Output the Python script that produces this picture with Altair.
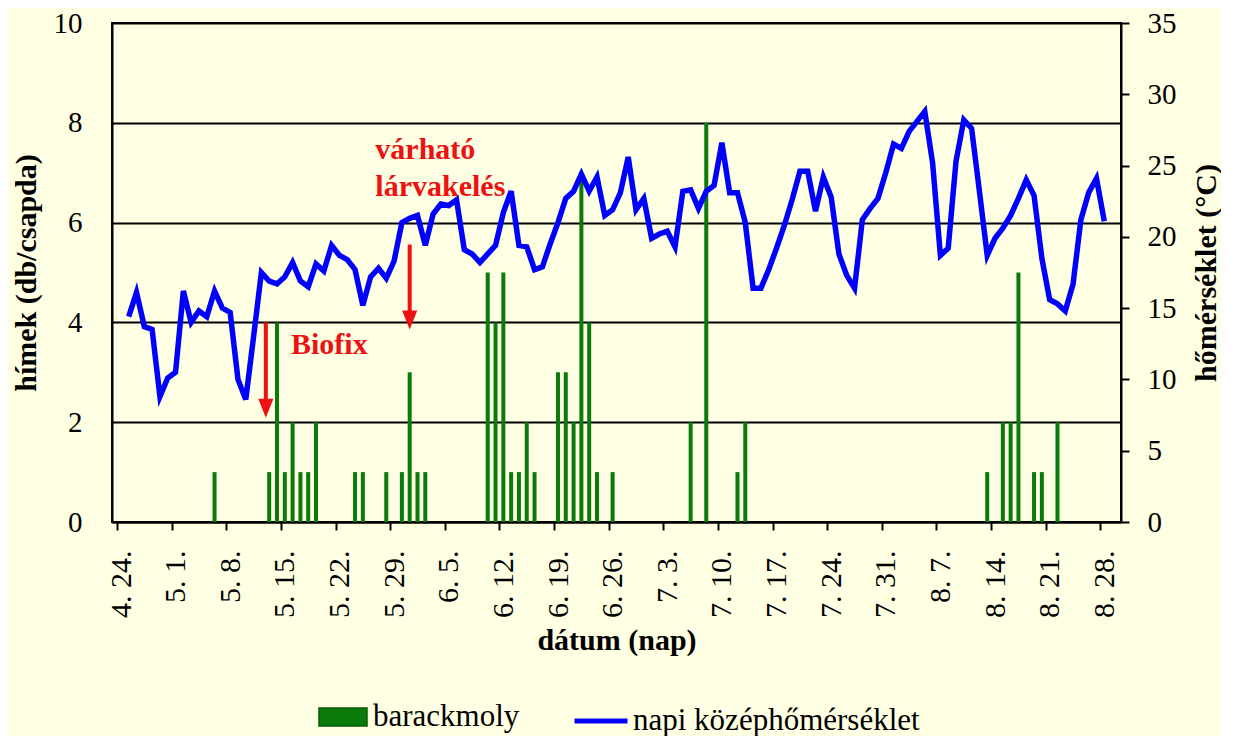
import altair as alt
import pandas as pd
import datetime as dt

# ---------------- data ----------------
START = dt.date(2010, 4, 24)
N_DAYS = 128
day_labels = [f"{d.month}. {d.day}." for d in (START + dt.timedelta(days=i) for i in range(N_DAYS))]

# daily mean temperature (°C), one value per day from 4.24.
temperature = [
    None, 14.4, 16.1, 13.7, 13.5, 8.8, 10.1, 10.5, 16.2, 14.0,
    14.8, 14.4, 16.2, 15.0, 14.7, 10.0, 8.6, 13.0, 17.5, 16.9,
    16.7, 17.2, 18.2, 16.9, 16.5, 18.1, 17.6, 19.4, 18.7, 18.4,
    17.7, 15.2, 17.2, 17.8, 17.1, 18.3, 21.0, 21.3, 21.5, 19.4,
    21.6, 22.3, 22.2, 22.6, 19.1, 18.8, 18.2, 18.8, 19.4, 21.7,
    23.2, 19.4, 19.3, 17.7, 17.9, 19.5, 21.0, 22.7, 23.2, 24.4,
    23.2, 24.2, 21.5, 21.9, 23.1, 25.6, 21.9, 22.7, 19.9, 20.2,
    20.4, 19.3, 23.2, 23.3, 22.0, 23.2, 23.6, 26.6, 23.1, 23.1,
    21.0, 16.4, 16.4, 17.7, 19.2, 20.8, 22.6, 24.6, 24.6, 21.8,
    24.2, 22.8, 18.8, 17.3, 16.4, 21.2, 22.0, 22.7, 24.5, 26.5,
    26.2, 27.4, 28.1, 28.8, 25.2, 18.7, 19.2, 25.3, 28.2, 27.6,
    23.2, 18.7, 19.9, 20.6, 21.5, 22.7, 24.0, 22.9, 18.5, 15.6,
    15.3, 14.8, 16.7, 21.2, 23.1, 24.1, 21.1, None,
]

# barackmoly catches (day index from 4.24., count)
moth_days = [12, 19, 20, 21, 22, 23, 24, 25, 30, 31, 34, 36, 37, 38, 39,
             47, 48, 49, 50, 51, 52, 53, 56, 57, 58, 59, 60, 61, 63,
             73, 75, 79, 80, 111, 113, 114, 115, 117, 118, 120]
moth_counts = [1, 1, 4, 1, 2, 1, 1, 2, 1, 1, 1, 1, 3, 1, 1,
               5, 4, 5, 1, 1, 2, 1, 3, 3, 2, 7, 4, 1, 1,
               2, 8, 1, 2, 1, 2, 2, 5, 1, 1, 2]

# annotations (x in day units, y on the left axis)
label_center_text = ["Biofix"]
label_center_x = [27.2]
label_center_y = [3.54]
label_left_text = ["várható", "lárvakelés"]
label_left_x = [33.1, 33.1]
label_left_y = [7.28, 6.54]

arrow_x = [19.07, 37.5]
arrow_top = [4.0, 5.56]
arrow_end = [2.4, 4.2]
arrow_head = [2.28, 4.05]

SERIES_BAR = "barackmoly"
SERIES_LINE = "napi középhőmérséklet"

# ---------------- tables ----------------
temp_df = pd.DataFrame({
    "pos": [i + 0.5 for i in range(N_DAYS)],
    "temp": temperature,
    "series": SERIES_LINE,
}).dropna()

bar_df = pd.DataFrame({
    "pos": [d + 0.5 for d in moth_days],
    "count": moth_counts,
    "series": SERIES_BAR,
})

center_df = pd.DataFrame({"pos": label_center_x, "count": label_center_y, "t": label_center_text})
left_df = pd.DataFrame({"pos": label_left_x, "count": label_left_y, "t": label_left_text})
arrow_df = pd.DataFrame({"pos": arrow_x, "count": arrow_top, "y2": arrow_end, "h": arrow_head})

FONT = "Liberation Serif"
RED = "#EE1111"
W, H = 1009, 499

tick_values = list(range(0, N_DAYS - 1, 7))
label_array = "[" + ",".join(f"'{day_labels[v]}'" for v in tick_values) + "]"

x_scale = alt.Scale(domain=[0, N_DAYS], nice=False, zero=False)
yl_scale = alt.Scale(domain=[0, 10], nice=False)
yr_scale = alt.Scale(domain=[0, 35], nice=False)

x_axis = alt.Axis(
    values=tick_values,
    labelExpr=label_array + "[round(datum.value/7)]",
    labelAngle=270,
    labelFont=FONT, labelFontSize=30, labelColor="black",
    labelPadding=20, labelOffset=4,
    tickSize=8, tickWidth=2, tickColor="black",
    domainColor="black", domainWidth=2,
    grid=False,
    title="dátum (nap)", titleFont=FONT, titleFontSize=30, titleFontWeight="bold",
    titleColor="black", titlePadding=8,
    labelOverlap=False, labelFlush=False,
)

yl_axis = alt.Axis(
    values=[0, 2, 4, 6, 8, 10],
    grid=True, gridColor="black", gridWidth=2,
    ticks=False, labelPadding=30,
    labelFont=FONT, labelFontSize=29, labelColor="black",
    domainColor="black", domainWidth=2,
    title="hímek (db/csapda)", titleFont=FONT, titleFontSize=30, titleFontWeight="bold",
    titleColor="black", titlePadding=12,
)

yr_axis = alt.Axis(
    orient="right",
    values=[0, 5, 10, 15, 20, 25, 30, 35],
    grid=False,
    tickSize=8, tickWidth=2, tickColor="black", labelPadding=18,
    labelFont=FONT, labelFontSize=29, labelColor="black",
    domainColor="black", domainWidth=2,
    title="hőmérséklet (°C)", titleFont=FONT, titleFontSize=30, titleFontWeight="bold",
    titleColor="black", titlePadding=15, titleAngle=270, titleBaseline="top",
)

X = alt.X("pos:Q", scale=x_scale, axis=x_axis)
YL = alt.Y("count:Q", scale=yl_scale, axis=yl_axis)

bars = alt.Chart(bar_df).mark_bar(size=4).encode(
    x=X, y=YL,
    fill=alt.Fill("series:N", scale=alt.Scale(domain=[SERIES_BAR], range=["#0a7a0a"]),
                  legend=alt.Legend(orient="none", legendX=206, legendY=669, title=None,
                                    symbolType="M-1,-0.375H1V0.375H-1Z", symbolSize=2304,
                                    symbolStrokeColor="#075a07", symbolStrokeWidth=1.5,
                                    labelFont=FONT, labelFontSize=31, labelColor="black",
                                    labelOffset=5, labelLimit=400)),
)

shafts = alt.Chart(arrow_df).mark_rule(color=RED, strokeWidth=4).encode(
    x=X, y=YL, y2="y2:Q",
)
heads = alt.Chart(arrow_df).mark_point(
    shape="M-0.8,-1L0.8,-1L0,1Z", size=361, filled=True, color=RED, opacity=1
).encode(
    x=X, y=alt.Y("h:Q", scale=yl_scale, axis=yl_axis),
)

txt_center = alt.Chart(center_df).mark_text(
    font=FONT, fontSize=30, fontWeight="bold", color=RED, align="center", baseline="middle"
).encode(x=X, y=YL, text="t:N")
txt_left = alt.Chart(left_df).mark_text(
    font=FONT, fontSize=30, fontWeight="bold", color=RED, align="left", baseline="alphabetic"
).encode(x=X, y=YL, text="t:N")

left_layer = alt.layer(bars, shafts, heads, txt_center, txt_left)

line = alt.Chart(temp_df).mark_line(strokeWidth=5.5, strokeJoin="miter").encode(
    x=X,
    y=alt.Y("temp:Q", scale=yr_scale, axis=yr_axis),
    stroke=alt.Stroke("series:N", scale=alt.Scale(domain=[SERIES_LINE], range=["#0000FF"]),
                      legend=alt.Legend(orient="none", legendX=460, legendY=669, title=None,
                                        symbolType="stroke", symbolSize=2809, symbolStrokeWidth=5,
                                        labelFont=FONT, labelFontSize=31, labelColor="black",
                                        labelOffset=3, labelLimit=500)),
)

chart = alt.layer(left_layer, line).resolve_scale(
    y="independent", fill="independent", stroke="independent"
).properties(
    width=W, height=H,
    background="#FFFFE3",
    padding={"left": 3, "top": 1, "right": 0, "bottom": 0},
).configure_view(
    stroke="black", strokeWidth=2,
)

chart.save("out.html", embed_options={"renderer": "svg", "actions": False})
